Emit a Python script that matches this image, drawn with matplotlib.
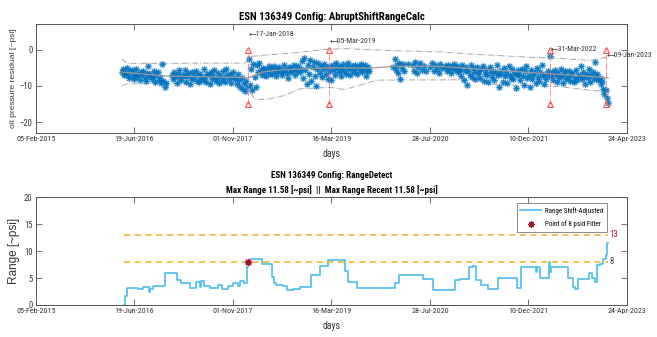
import numpy as np
import matplotlib
matplotlib.use("Agg")
import matplotlib.pyplot as plt
import matplotlib.dates as mdates

plt.rcParams['font.family'] = ['Roboto Condensed', 'Archivo Narrow', 'Liberation Sans', 'DejaVu Sans']

# day 0 of the time axis
t0 = np.datetime64('2015-02-05')
t_end = np.datetime64('2023-04-24')
STEP = 6  # residual log sampling, days

# oil pressure residual [~psi], logged every STEP days from the given start day
seg1_start = 437
seg1 = [-6.2, -5.4, -7.1, -6.5, -5.1, -6.9, -7.7, -6.0, -5.6, -7.3, -8.1, -6.6, -5.3,
        -7.5, -6.8, -8.4, -6.2, -7.1, -5.8, -7.9, -8.7, -6.4, -4.6, -7.4, -6.8, -8.2,
        -7.6, -5.9, -8.9, -7.1, -6.3, -8.5, -7.8, -9.3, -4.0, -8.7, -10.2, -9.1]
seg2_start = 690
seg2 = [-7.0, -8.2, -6.3, -7.6, -9.1, -6.8, -5.7, -7.9, -8.5, -6.9, -7.4, -5.5, -8.8,
        -7.2, -6.4, -9.4, -7.7, -6.1, -8.0, -7.3, -5.9, -8.6, -7.0, -9.0, -6.6, -7.8,
        -8.3, -5.2, -7.5, -8.9, -6.7, -7.1, -9.5, -6.2, -8.1, -7.4, -5.6, -8.7, -7.9,
        -6.5, -9.2, -7.2, -8.4, -6.0, -7.6, -8.8, -5.3, -7.0, -8.2, -6.8, -9.1, -7.5,
        -6.3, -8.0, -7.7, -9.4, -6.6, -8.5, -10.3, -7.9, -10.9, -9.2, -11.3, -8.6, -10.1]
seg3_start = 1080
seg3 = [-2.7, -9.8, -5.2, -11.0, -3.9, -7.6, -10.4, -4.3, -6.1, -3.8, -5.5, -6.9, -5.0,
        -6.3, -5.4, -7.2, -5.8, -4.6, -6.6,
        -5.1, -6.8, -4.4, -5.9, -7.4, -5.3, -6.2, -4.8, -5.7, -7.0, -6.0, -4.2, -5.5,
        -6.5, -7.7, -5.0, -4.7, -6.3, -5.6, -4.3, -6.9, -5.2, -5.9, -4.5, -6.1, -5.4,
        -3.0, -7.9, -2.4, -5.6, -9.6, -4.1, -6.8, -2.9, -8.7, -4.8, -3.5, -7.2, -10.0,
        -5.3, -3.8, -6.4, -4.6, -7.5, -5.2, -3.9, -6.7, -5.0, -8.1, -4.4, -5.8,
        -8.3, -4.2, -5.6, -6.9, -3.7, -5.1, -6.2, -4.5, -7.3, -5.4, -4.0, -5.9, -6.6,
        -4.8, -3.6, -5.3, -7.0, -4.4, -5.7, -6.3, -4.1, -5.0, -6.8, -4.6, -5.5, -3.9,
        -6.1, -5.2, -4.3, -7.4, -5.8, -4.7, -6.0]
seg4_start = 2081
seg4 = [-4.8, -5.9, -4.1, -5.3, -6.4, -4.5, -5.0, -3.9, -5.7, -4.4, -6.1, -5.2,
        -5.5, -7.2, -4.3, -8.4, -6.0, -4.7, -9.7, -5.8, -6.9, -4.2, -7.6, -5.1, -6.3,
        -8.0, -4.9, -6.6,
        -6.0, -7.8, -5.2, -4.4, -8.6, -6.7, -5.5, -7.1, -9.0, -4.8, -6.2, -7.5, -5.8,
        -8.3, -6.5, -4.1, -7.0, -10.2, -5.9, -6.8, -8.8, -5.0, -7.3, -6.1, -9.3, -4.6,
        -6.9, -7.7, -5.4, -8.1, -6.4, -10.6, -7.0, -5.7,
        -6.6, -8.5, -5.3, -7.4, -9.8, -6.0, -4.5, -7.9, -6.9, -10.3, -5.6, -8.2, -7.1,
        -6.3, -9.1, -5.0, -7.6, -8.7, -6.2, -4.2, -7.3, -9.5, -6.7, -8.0, -5.8, -7.0]
seg5_start = 2615
seg5 = [-7.4, -6.1, -8.3, -5.7, -7.0, -8.9, -6.5, -7.8, -5.4, -7.2, -9.3, -6.8, -6.0,
        -8.1, -7.5, -5.9, -8.6, -7.1, -6.4, -9.0, -7.7, -5.6, -8.4, -6.9, -7.3, -4.6,
        -8.0, -6.2, -7.6, -9.5, -6.7, -7.9, -5.3, -8.8, -7.0, -6.3, -8.2, -3.3, -7.4,
        -6.6, -8.5, -7.8, -9.4, -8.6, -10.8, -12.2, -11.0, -13.4, -14.6]

# sparse stretches logged irregularly
sparse_days = [1812, 1820, 1826, 1832, 1838, 1844, 1850, 1856, 1862, 1868, 1888,
               1914, 1920, 1926, 1932, 1938, 1950, 1962, 1968, 1980, 2002, 2010, 2018,
               2024, 2036, 2044, 2052, 2060, 2075, 2611]
sparse_vals = [-4.9, -2.6, -5.6, -4.3, -6.4, -3.8, -8.2, -5.1, -4.0, -6.0, -3.9,
               -4.2, -5.8, -3.5, -6.4, -4.9, -3.8, -5.5, -4.4, -6.0, -4.7, -3.6, -5.9,
               -4.3, -5.2, -6.5, -3.9, -5.0, -4.6, -1.7]

# fitted mean and upper / lower limits
mean_days = [437, 665, 1000, 1077, 1147, 1239, 1492, 1695, 1812, 2051, 2254, 2508, 2848, 2904]
mean_vals = [-6.2, -7.3, -7.6, -7.8, -6.2, -5.6, -5.0, -5.1, -4.6, -4.6, -5.4, -6.3, -7.5, -7.8]
upper_days = [437, 460, 1061, 1096, 1188, 1325, 1477, 1568, 1812, 2051, 2203, 2508, 2660, 2812, 2904]
upper_vals = [-2.5, -3.8, -3.7, -1.8, -1.4, -0.8, 0.1, 0.3, -0.3, -0.6, -1.2, -2.1, -2.4, -3.0, -2.0]
lower_days = [437, 460, 985, 1061, 1112, 1178, 1264, 1340, 1492, 1568, 1731, 2203, 2304, 2508, 2660, 2812, 2904]
lower_vals = [-10.0, -9.4, -9.3, -9.6, -13.7, -13.7, -12.6, -10.8, -10.4, -11.0, -8.4, -8.3, -9.5, -10.0, -10.2, -11.2, -11.5]

# detected abrupt shifts
shift_dates = ['2018-01-17', '2019-03-05', '2022-03-31', '2023-01-09']
shift_label_y = [4.4, 2.4, 0.3, -1.5]
shift_top, shift_bottom = 0, -15

# shift-adjusted range [~psi], step changes (day, value)
range_days = [447, 452, 462, 520, 543, 563, 572, 580, 594, 629, 655, 716, 736, 782, 812,
              832, 840, 853, 883, 924, 944, 975, 1000, 1025, 1036, 1056, 1070, 1077, 1086,
              1147, 1198, 1210, 1220, 1254, 1274, 1305, 1340, 1396, 1442, 1482, 1568, 1584,
              1629, 1822, 1843, 1964, 2015, 2127, 2150, 2198, 2218, 2233, 2259, 2294, 2345,
              2442, 2460, 2538, 2545, 2558, 2603, 2607, 2614, 2700, 2726, 2736, 2751, 2807,
              2822, 2838, 2848, 2863, 2880, 2893, 2898, 2904]
range_vals = [0.0, 1.7, 3.1, 3.0, 3.3, 3.4, 2.5, 3.0, 3.5, 3.6, 5.9, 4.6, 4.0, 3.2, 4.2,
              3.4, 4.5, 3.5, 3.2, 3.7, 3.0, 3.6, 4.0, 3.5, 4.5, 4.0, 7.0, 8.0, 8.5,
              7.6, 5.2, 4.0, 3.7, 3.5, 2.7, 2.9, 3.3, 5.6, 7.2, 8.4, 6.4, 4.3,
              3.1, 4.1, 5.6, 4.8, 2.8, 4.6, 4.8, 7.1, 7.3, 4.6, 3.7, 2.9, 5.1,
              3.1, 7.1, 6.2, 7.1, 5.0, 8.0, 6.2, 7.1, 5.0, 3.4, 2.9, 4.9, 5.9,
              5.0, 4.2, 7.4, 7.6, 8.5, 9.3, 11.58, 11.58]
filter_date, filter_level = '2018-01-17', 8
limit_levels = [8, 13]
limit_colors = ['#404040', '#A2142F']
max_range = 11.58
max_range_recent = 11.58

tick_dates = ['2015-02-05', '2016-06-19', '2017-11-01', '2019-03-16',
              '2020-07-28', '2021-12-10', '2023-04-24']


def to_dates(days):
    return t0 + np.asarray(days).astype('timedelta64[D]')


def seg_dates(start, vals):
    return to_dates(start + STEP * np.arange(len(vals)))


resid_t = np.concatenate([seg_dates(seg1_start, seg1), seg_dates(seg2_start, seg2),
                          seg_dates(seg3_start, seg3), to_dates(sparse_days),
                          seg_dates(seg4_start, seg4), seg_dates(seg5_start, seg5)])
resid_v = np.concatenate([seg1, seg2, seg3, sparse_vals, seg4, seg5])

fig = plt.figure(figsize=(6.57, 3.37), dpi=100)
ax1 = fig.add_axes([0.0548, 0.6053, 0.8995, 0.3226])
ax2 = fig.add_axes([0.0548, 0.0950, 0.8995, 0.3196])

# top: residual scatter with mean and limits
ax1.plot(to_dates(upper_days), upper_vals, color='#a8a8a8', lw=0.7, ls='-.')
ax1.plot(to_dates(lower_days), lower_vals, color='#a8a8a8', lw=0.7, ls='-.')
ax1.plot(resid_t, resid_v, ls='none', marker=(8, 2, 0), ms=5.5, mew=1.4,
         color='#7fb3df', alpha=0.35)
ax1.plot(resid_t, resid_v, ls='none', marker=(8, 2, 0), ms=4.0, mew=0.7,
         color='#0072BD', alpha=0.9)
ax1.plot(to_dates(mean_days), mean_vals, color='#9a9a9a', lw=0.9)
for d, ly in zip(shift_dates, shift_label_y):
    x = np.datetime64(d)
    ax1.plot([x, x], [shift_bottom, shift_top], color='#ff7070', lw=0.6, ls='-.')
    ax1.plot([x, x], [shift_bottom, shift_top], ls='none', marker='^', ms=4.5,
             mfc='none', mec='#ff5050', mew=0.8)
    label = mdates.num2date(mdates.date2num(x)).strftime('%d-%b-%Y')
    ax1.text(x, ly, '\u2190' + label, fontsize=5.6, color='#333333',
             ha='left', va='center')
ax1.set_ylim(-23, 7)
ax1.set_yticks([0, -10, -20])
ax1.set_ylabel('oil pressure residual [~psi]', fontsize=6.1, color='#333333',
               family=['Liberation Sans', 'DejaVu Sans'], labelpad=2)
ax1.set_title('ESN 136349 Config: AbruptShiftRangeCalc', fontsize=7.8,
              fontweight='bold', pad=3)

# bottom: range detect
rx = to_dates(range_days)
ax2.plot(rx, range_vals, drawstyle='steps-post', color='#4DBEEE', lw=1.2,
         label='Range Shift-Adjusted')
for lvl, c in zip(limit_levels, limit_colors):
    ax2.plot([rx[0], rx[-1]], [lvl, lvl], color='#EDB120', lw=1.1, ls=(0, (4, 3)))
    ax2.text(rx[-1] + np.timedelta64(8, 'D'), lvl, str(lvl), color=c,
             fontsize=6.3, ha='left', va='center')
fx = np.datetime64(filter_date)
ax2.plot(fx, filter_level, ls='none', marker='s', ms=5, color='#f4a0a8', alpha=0.7)
ax2.plot(fx, filter_level, ls='none', marker=(8, 2, 0), ms=4.5, mew=0.9,
         color='#A2142F', label='Point of 8 psid Filter')
ax2.set_ylim(0, 20)
ax2.set_yticks([0, 5, 10, 15, 20])
ax2.set_ylabel('Range [~psi]', fontsize=8.5, color='#333333',
               family=['Liberation Sans', 'DejaVu Sans'], labelpad=3)
ax2.set_title('ESN 136349 Config: RangeDetect\nMax Range %.2f [~psi]  ||  '
              'Max Range Recent %.2f [~psi]' % (max_range, max_range_recent),
              fontsize=6.5, fontweight='bold', pad=3, linespacing=1.6)
leg = ax2.legend(loc='upper right', bbox_to_anchor=(0.972, 0.975), fontsize=5.0,
                 frameon=True, fancybox=False, edgecolor='#555555',
                 handlelength=3.0, handletextpad=0.6, borderpad=0.5, labelspacing=0.8)
leg.get_frame().set_linewidth(0.6)

for ax in (ax1, ax2):
    ax.set_xlim(t0, t_end)
    ax.set_xticks([np.datetime64(d) for d in tick_dates])
    ax.xaxis.set_major_formatter(mdates.DateFormatter('%d-%b-%Y'))
    ax.tick_params(direction='in', top=True, right=True, length=4, width=0.6,
                   colors='#555555', labelcolor='#333333', labelsize=5.8, pad=2.5)
    ax.tick_params(axis='y', labelsize=6.2)
    for s in ax.spines.values():
        s.set_color('#555555')
        s.set_linewidth(0.7)
    ax.set_xlabel('days', fontsize=7, color='#333333', labelpad=5)

fig.savefig('out.png', dpi=100)
